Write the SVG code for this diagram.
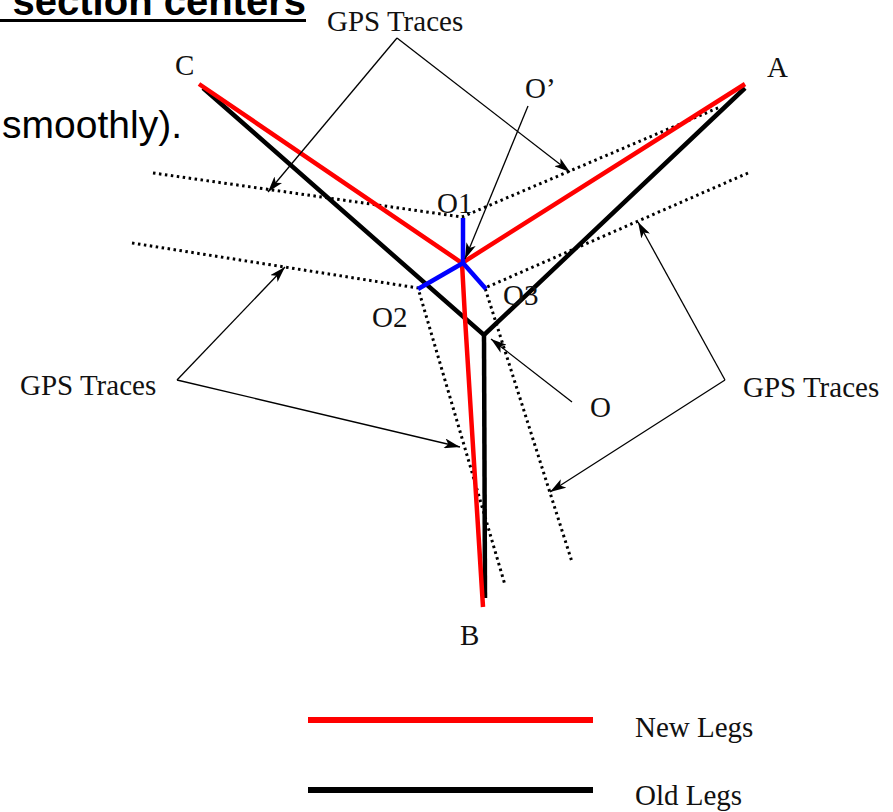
<svg xmlns="http://www.w3.org/2000/svg" width="893" height="812" viewBox="0 0 893 812">
<style>
.lbl{font-family:"Liberation Serif","Times New Roman",serif;font-size:29px;fill:#111}
.body{font-family:"Liberation Sans",Arial,sans-serif;fill:#000}
.trace{fill:none;stroke:#000;stroke-width:3;stroke-dasharray:2.5 3.5}
.old{fill:none;stroke:#000;stroke-width:4.5;stroke-linejoin:miter}
.new{fill:none;stroke:#f00;stroke-width:4.5}
.blue{fill:none;stroke:#00f;stroke-width:4.5}
.ann{fill:none;stroke:#000;stroke-width:1.3;marker-end:url(#ah)}
</style>
<defs>
<marker id="ah" viewBox="0 0 16 10" refX="16" refY="5" markerWidth="16" markerHeight="10" markerUnits="userSpaceOnUse" orient="auto">
<path d="M0,0 L16,5 L0,10 L4,5 z" fill="#000"/>
</marker>
</defs>
<rect width="893" height="812" fill="#fff"/>
<g id="heading">
<text class="body" x="306" y="15" text-anchor="end" font-size="40" font-weight="bold">section centers</text>
<rect x="0" y="19" width="306" height="3" fill="#000"/>
<text class="body" x="182" y="138" text-anchor="end" font-size="39">smoothly).</text>
</g>
<g id="traces">
<polyline class="trace" points="153,173 462,217 720,107"/>
<polyline class="trace" points="132,243 418,288 505,585"/>
<polyline class="trace" points="748,173 485,288 572,562"/>
</g>
<g id="old-legs">
<polyline class="old" points="203,88 484,335 745,88"/>
<line class="old" x1="484" y1="333" x2="485" y2="598"/>
</g>
<g id="new-legs">
<polyline class="new" points="199,84 462,263 745,84"/>
<polyline class="new" points="462,263 465,318 483,607"/>
</g>
<g id="centers">
<line class="blue" x1="463" y1="218" x2="463" y2="263"/>
<line class="blue" x1="463" y1="263" x2="418" y2="289"/>
<line class="blue" x1="463" y1="263" x2="486" y2="289"/>
</g>
<g id="connectors">
<line class="ann" x1="397" y1="38" x2="268" y2="192"/>
<line class="ann" x1="397" y1="38" x2="570" y2="172"/>
<line class="ann" x1="177" y1="380" x2="285" y2="267"/>
<line class="ann" x1="177" y1="380" x2="460" y2="447"/>
<line class="ann" x1="725" y1="380" x2="638" y2="222"/>
<line class="ann" x1="725" y1="380" x2="550" y2="492"/>
<line class="ann" x1="572" y1="402" x2="491" y2="339"/>
<line class="ann" x1="528" y1="106" x2="465" y2="259"/>
</g>
<g id="labels">
<text class="lbl" x="327" y="31">GPS Traces</text>
<text class="lbl" x="20" y="395">GPS Traces</text>
<text class="lbl" x="743" y="397">GPS Traces</text>
<text class="lbl" x="175" y="75">C</text>
<text class="lbl" x="767" y="77">A</text>
<text class="lbl" x="525" y="98">O’</text>
<text class="lbl" x="437" y="213">O1</text>
<text class="lbl" x="372" y="327">O2</text>
<text class="lbl" x="503" y="305">O3</text>
<text class="lbl" x="590" y="417">O</text>
<text class="lbl" x="460" y="645">B</text>
</g>
<g id="legend">
<line x1="308" y1="720" x2="593" y2="720" stroke="#f00" stroke-width="6"/>
<line x1="308" y1="790" x2="593" y2="790" stroke="#000" stroke-width="6"/>
<text class="lbl" x="635" y="737">New Legs</text>
<text class="lbl" x="635" y="805">Old Legs</text>
</g>
</svg>
